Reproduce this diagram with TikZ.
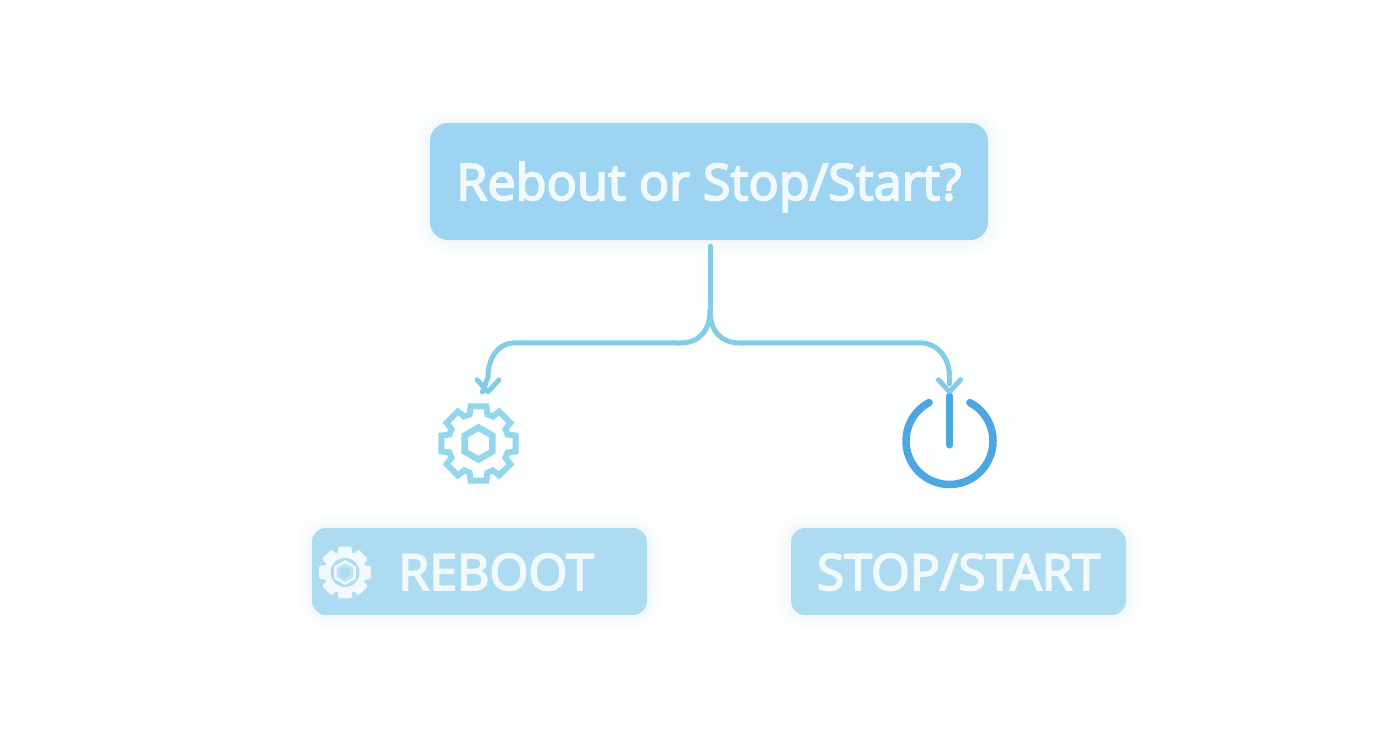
\documentclass[tikz,border=0pt]{standalone}
\usepackage{fontspec}
\usetikzlibrary{calc}
\setmainfont{Open Sans}[UprightFeatures={FakeBold=3.5}]
\definecolor{bgc}{HTML}{FDFEFE}
\definecolor{topc}{HTML}{9DD4F2}
\definecolor{lowc}{HTML}{ADDBF1}
\definecolor{linec}{HTML}{82CCE8}
\definecolor{gearc}{HTML}{94D6EC}
\definecolor{powerc}{HTML}{4BA6E2}
\definecolor{textc}{HTML}{F1F9FD}
\tikzset{
  x=1pt,y=-1pt,
  glow/.style={preaction={draw=#1,line width=26pt,opacity=.025},
               preaction={draw=#1,line width=16pt,opacity=.03},
               preaction={draw=#1,line width=7pt,opacity=.04}},
  qbox/.style={draw=none,fill=topc,rounded corners=18pt,minimum width=558pt,minimum height=117pt,
               inner sep=0pt,text=textc,text height=37pt,text depth=0pt,
               font=\fontsize{50.4}{50}\selectfont,glow=topc},
  abox/.style={draw=none,fill=lowc,rounded corners=14pt,minimum width=335pt,minimum height=87pt,
               inner sep=0pt,text=textc,text height=37pt,text depth=0pt,
               font=\fontsize{50}{50}\selectfont,glow=lowc},
  link/.style={draw=linec,line width=5pt,line cap=round,line join=round},
  tip/.style={draw=linec,line width=5pt,line cap=round,line join=round},
  iconanchor/.style={circle,draw=none,fill=none,inner sep=0pt,minimum size=#1},
}
\newcommand{\gearpath}[2]{% root radius, outer radius
  (-17:#1) \foreach \a in {0,45,...,315}{
    -- (\a-17:#1) -- (\a-12:#2) -- (\a+12:#2) -- (\a+17:#1) arc[start angle=\a+17,end angle=\a+28,radius=#1]
  } -- cycle}
\newcommand{\hexpath}[1]{(-90:#1) -- (-30:#1) -- (30:#1) -- (90:#1) -- (150:#1) -- (210:#1) -- cycle}
\begin{document}
\begin{tikzpicture}
\useasboundingbox (0,0) rectangle (1392,752);
\fill[bgc] (0,0) rectangle (1392,752);

\node[qbox] (q) at (709,181.5) {Rebout or Stop/Start?};
\node[abox,anchor=center,text=textc] (reboot) at (479.5,571.5) {\hspace*{33pt}REBOOT};
\node[abox] (stop) at (958.5,571.5) {STOP/START};

\node[iconanchor=82pt] (gear) at (478.5,443.5) {};
\node[iconanchor=94pt] (power) at (949.5,441) {};
\coordinate (fork) at (710,310);

% large gear
\begin{scope}[shift={(gear.center)}]
  \draw[gearc,line width=6pt,line join=miter] \gearpath{30.5}{38};
  \draw[gearc,line width=6.5pt,line join=miter] \hexpath{16};
\end{scope}

% small gear in the REBOOT box
\begin{scope}[shift={(345,572.5)}]
  \filldraw[textc,line width=3pt,line join=round] \gearpath{19.5}{25};
  \fill[lowc] (0,0) circle (14.5);
  \draw[textc,line width=2.5pt,fill=lowc!75!white] \hexpath{11};
  \fill[lowc] \hexpath{6};
\end{scope}

% power icon
\begin{scope}[shift={(power.center)}]
  \draw[powerc,line width=7.5pt,line cap=round] (-62:43.5) arc[start angle=-62,end angle=242,radius=43.5];
\end{scope}
\draw[powerc,line width=7pt,line cap=round] (power.center) ++(0,-45) -- ++(0,49);

% connectors
\draw[link,shorten <=6pt] (q.south -| fork) -- (fork);
\draw[link,shorten >=11pt] (fork) .. controls ($(fork)+(0,20)$) and ($(fork)+(-10,33)$) .. ($(fork)+(-30,33)$)
   -- ($(gear.north)+(36,-59.5)$) .. controls ($(gear.north)+(21,-59.5)$) and ($(gear.north)+(9.5,-46)$) .. ($(gear.north)+(9.5,-25)$)
   -- (gear.north);
\draw[link,shorten >=10pt] (fork) .. controls ($(fork)+(0,20)$) and ($(fork)+(10,33)$) .. ($(fork)+(30,33)$)
   -- ($(power.north)+(-29,-51)$) .. controls ($(power.north)+(-14,-51)$) and ($(power.north)+(0,-38)$) .. ($(power.north)+(0,-17)$)
   -- (power.north);
\coordinate (ltip) at ($(gear.north)+(9.5,-10.5)$);
\coordinate (rtip) at ($(power.north)+(0,-2)$);
\draw[tip] ($(ltip)+(-11,-12)$) -- (ltip) -- ($(ltip)+(11,-12)$);
\draw[tip] ($(rtip)+(-11,-12)$) -- (rtip) -- ($(rtip)+(11,-12)$);
\end{tikzpicture}
\end{document}
